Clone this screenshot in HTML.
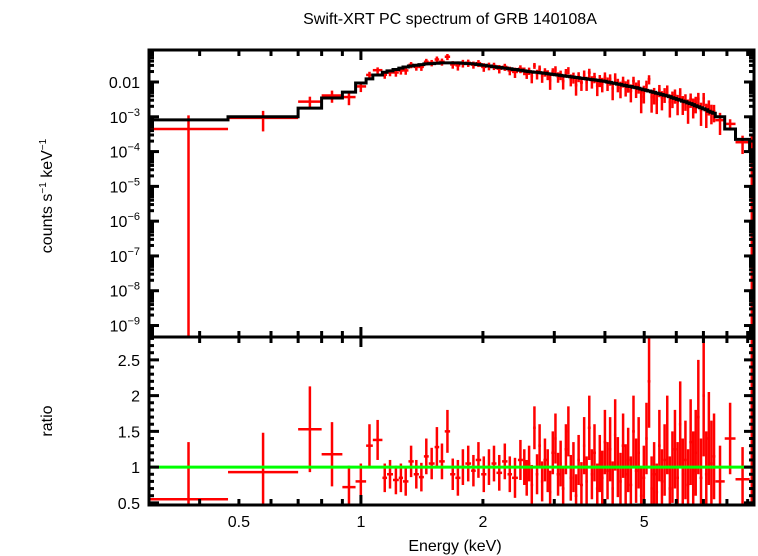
<!DOCTYPE html>
<html><head><meta charset="utf-8">
<style>
html,body{margin:0;padding:0;background:#fff;}
svg{display:block;font-family:"Liberation Sans",sans-serif;}
</style></head>
<body>
<svg id="chart" width="758" height="556" viewBox="0 0 758 556" xmlns="http://www.w3.org/2000/svg">
<text x="450" y="24" font-size="16" text-anchor="middle">Swift-XRT PC spectrum of GRB 140108A</text>
<text transform="translate(52,196) rotate(-90)" font-size="16" text-anchor="middle">counts s<tspan font-size="10" dy="-6">−1</tspan><tspan dy="6"> keV</tspan><tspan font-size="10" dy="-6">−1</tspan></text>
<text transform="translate(52,421) rotate(-90)" font-size="16" text-anchor="middle">ratio</text>
<text x="455" y="551" font-size="16" text-anchor="middle">Energy (keV)</text>
<g id="topPanel"></g>
<g id="botPanel"></g>
</svg>
<script>
// ---- data ----
const binEdgesLow = [0.3,0.47,0.7,0.8,0.9,0.97,1.03,1.07];
const binEdgesLowHi = [0.47,0.7,0.8,0.9,0.97,1.03,1.07,1.13];
const binEdgesMid = [1.13,1.16,1.20,1.24,1.27,1.31,1.35,1.39,1.43,1.47,1.52,1.56,1.61,1.66,1.71,1.76,1.81,1.87,1.92,1.98,2.04,2.10,2.16,2.23,2.30,2.36,2.44,
 2.51,2.55,2.58,2.62,2.66,2.70,2.74,2.78,2.82,2.87,2.91,
 2.95,3.00,3.04,3.09,3.13,3.18,3.23,3.27,3.32,3.37,
 3.42,3.47,3.53,3.58,3.63,3.69,3.74,3.80,3.86,
 3.91,3.97,4.03,4.09,4.15,4.21,4.27,4.34,4.40,4.47,
 4.53,4.60,4.67,4.74,4.81,4.88,4.95,5.03,5.10,5.18,
 5.25,5.33,5.41,5.49,5.57,5.66,5.74,5.83,5.91,6.00,
 6.09,6.18,6.27,6.37,6.46,6.56,6.65,6.75,6.85,6.96,
 7.06,7.17,7.27,7.38,7.49,7.9,8.4,9.1,9.33];
const modelLog10 = [-3.09,-3.0,-2.75,-2.46,-2.29,-2.03,-1.91,-1.8,
 -1.72,-1.68,-1.64,-1.6,-1.57,-1.54,-1.52,-1.5,-1.48,-1.47,-1.46,-1.45,-1.45,-1.45,-1.45,-1.46,-1.47,-1.48,-1.5,-1.52,-1.54,-1.56,-1.58,-1.6,-1.62,-1.64,-1.66,
 -1.68,-1.69,-1.70,-1.71,-1.72,-1.72,-1.73,-1.74,-1.75,-1.76,-1.77,
 -1.78,-1.79,-1.80,-1.81,-1.82,-1.83,-1.84,-1.85,-1.86,-1.87,
 -1.88,-1.89,-1.90,-1.91,-1.92,-1.93,-1.94,-1.95,-1.96,
 -1.97,-1.98,-2.0,-2.01,-2.03,-2.04,-2.06,-2.07,-2.09,-2.10,
 -2.12,-2.13,-2.15,-2.16,-2.18,-2.20,-2.22,-2.24,-2.26,-2.28,
 -2.3,-2.32,-2.34,-2.36,-2.38,-2.40,-2.42,-2.45,-2.47,-2.50,
 -2.52,-2.55,-2.57,-2.60,-2.62,-2.65,-2.68,-2.71,-2.74,-2.77,
 -2.8,-2.84,-2.87,-2.9,
 -3.0,-3.35,-3.65,-3.95];
const ratio = [0.55,0.93,1.53,1.18,0.72,0.8,1.3,1.38,
 0.85,0.9,0.82,0.85,0.8,1.08,0.9,0.86,1.15,1.05,1.28,1.08,1.5,0.9,0.85,1.0,1.05,0.95,1.1,0.9,1.0,1.05,0.92,1.08,0.9,0.85,1.1,
 1.0,0.85,1.05,0.75,1.55,0.9,1.3,0.8,1.1,0.95,0.65,
 1.2,1.4,0.9,1.05,0.7,1.25,1.5,0.85,1.0,0.6,
 1.1,0.75,1.3,0.8,1.55,0.9,1.2,0.7,1.05,
 0.85,1.35,0.95,1.25,0.7,1.45,1.0,0.8,1.3,0.9,
 1.1,0.75,1.5,0.95,1.2,0.6,0.85,1.4,2.2,0.7,
 0.9,0.65,1.3,0.8,1.1,1.45,0.7,1.0,1.25,0.85,
 1.6,0.9,1.1,0.75,1.35,0.95,1.2,1.7,0.85,2.0,
 0.9,1.4,1.05,1.15,
 0.8,1.4,0.83,1.1];
const ratioErr = [0.8,0.55,0.6,0.45,0.3,0.25,0.3,0.28,
 0.2,0.2,0.2,0.2,0.2,0.22,0.2,0.2,0.25,0.22,0.28,0.25,0.3,0.22,0.25,0.25,0.25,0.22,0.25,0.25,0.25,0.25,0.25,0.25,0.25,0.28,0.28,
 0.25,0.25,0.25,0.28,0.3,0.28,0.3,0.28,0.3,0.3,0.3,
 0.3,0.35,0.3,0.32,0.3,0.35,0.35,0.32,0.35,0.3,
 0.35,0.32,0.4,0.35,0.45,0.35,0.4,0.35,0.4,
 0.38,0.45,0.4,0.45,0.38,0.5,0.42,0.4,0.45,0.42,
 0.45,0.4,0.5,0.45,0.5,0.4,0.45,0.5,0.65,0.45,
 0.45,0.4,0.5,0.45,0.5,0.55,0.45,0.5,0.55,0.5,
 0.6,0.5,0.55,0.5,0.6,0.55,0.6,0.8,0.55,0.85,
 0.6,0.65,0.6,0.6,
 0.5,0.5,0.45,1.8];
const yTopTicks = [-2,-3,-4,-5,-6,-7,-8,-9];
const yTopLabels = ["0.01","10|-3","10|-4","10|-5","10|-6","10|-7","10|-8","10|-9"];
const yBotTicks = [0.5,1,1.5,2,2.5];
const xTickVals = [0.5,1,2,5];

// ---- scales ----
const X0=149, X1=754, TY0=50, TY1=337, BY0=337, BY1=505;
const xMin=Math.log10(0.3), xMax=Math.log10(9.33);
const sx = e => X0 + (Math.log10(e)-xMin)/(xMax-xMin)*(X1-X0);
const lyMin=-9.33, lyMax=-1.08;
const syTop = l => TY1 - (l-lyMin)/(lyMax-lyMin)*(TY1-TY0);
const rMin=0.47, rMax=2.82;
const syBot = r => BY1 - (r-rMin)/(rMax-rMin)*(BY1-BY0);
const NS="http://www.w3.org/2000/svg";
function mk(tag,attrs,parent){const el=document.createElementNS(NS,tag);for(const k in attrs)el.setAttribute(k,attrs[k]);parent.appendChild(el);return el;}
const topG=document.getElementById('topPanel'), botG=document.getElementById('botPanel');

const lo = binEdgesLow.concat(binEdgesMid.slice(0,-1));
const hi = binEdgesLowHi.concat(binEdgesMid.slice(1));
const n = Math.min(lo.length, modelLog10.length, ratio.length, ratioErr.length);

let d="";
for(let i=0;i<n;i++){const y=syTop(modelLog10[i]);d+=(i===0?"M":"L")+sx(lo[i]).toFixed(1)+","+y.toFixed(1)+"L"+sx(hi[i]).toFixed(1)+","+y.toFixed(1);}
for(let i=0;i<n;i++){
 const c=Math.sqrt(lo[i]*hi[i]);
 const m=Math.pow(10,modelLog10[i]);
 const v=m*ratio[i], up=m*(ratio[i]+ratioErr[i]), dn=m*(ratio[i]-ratioErr[i]);
 const yv=syTop(Math.log10(v)), yu=Math.max(TY0,syTop(Math.log10(up))), yd=dn>0?Math.min(TY1,syTop(Math.log10(dn))):TY1;
 const g=mk('g',{},topG);
 
 
 mk('line',{x1:sx(lo[i]),x2:sx(hi[i]),y1:yv,y2:yv,stroke:'#f00','stroke-width':2.5},g);
 mk('line',{x1:sx(c),x2:sx(c),y1:yu,y2:yd,stroke:'#f00','stroke-width':2.5},g);
}
const mp=mk('path',{d:d,fill:'none',stroke:'#000','stroke-width':3},topG);



for(let i=0;i<n;i++){
 const c=Math.sqrt(lo[i]*hi[i]);
 const yv=syBot(ratio[i]), yu=Math.max(BY0,syBot(ratio[i]+ratioErr[i])), yd=Math.min(BY1,syBot(ratio[i]-ratioErr[i]));
 const g=mk('g',{},botG);
 
 
 mk('line',{x1:sx(lo[i]),x2:sx(hi[i]),y1:yv,y2:yv,stroke:'#f00','stroke-width':2.5},g);
 mk('line',{x1:sx(c),x2:sx(c),y1:yu,y2:yd,stroke:'#f00','stroke-width':2.5},g);
}
const gl=mk('line',{x1:X0,x2:X1,y1:syBot(1),y2:syBot(1),stroke:'#0f0','stroke-width':3},botG);



const svg=document.getElementById('chart');
const ax=mk('g',{},svg);


mk('rect',{x:X0,y:TY0,width:X1-X0,height:TY1-TY0,fill:'none',stroke:'#000','stroke-width':3},ax);
mk('rect',{x:X0,y:BY0,width:X1-X0,height:BY1-BY0,fill:'none',stroke:'#000','stroke-width':3},ax);
const minorX=[0.4,0.5,0.6,0.7,0.8,0.9,2,3,4,5,6,7,8,9];
for(const e of minorX.concat([1])){
 const x=sx(e), L=e===1?10:6;
 for(const [a,b] of [[TY0,TY1],[BY0,BY1]]){
  mk('line',{x1:x,x2:x,y1:a,y2:a+L,stroke:'#000','stroke-width':3},ax);
  mk('line',{x1:x,x2:x,y1:b,y2:b-L,stroke:'#000','stroke-width':3},ax);
 }
}
for(const e of xTickVals){
 const t=mk('text',{x:sx(e),y:527,'font-size':16,'text-anchor':'middle'},ax);
 t.textContent=String(e);
 
 
}
for(let k=-10;k<=-1;k++){
 for(let m=1;m<10;m++){
  const l=k+Math.log10(m); if(l<lyMin||l>lyMax)continue;
  const y=syTop(l), L=m===1?10:5;
  mk('line',{x1:X0,x2:X0+L,y1:y,y2:y,stroke:'#000','stroke-width':3},ax);
  mk('line',{x1:X1,x2:X1-L,y1:y,y2:y,stroke:'#000','stroke-width':3},ax);
 }
}
yTopTicks.forEach((l,i)=>{
 const t=mk('text',{x:140,y:syTop(l)+6,'font-size':16,'text-anchor':'end'},ax);
 
 
 const parts=yTopLabels[i].split('|');
 if(parts.length===1){t.textContent=parts[0];}
 else{t.textContent=parts[0];const ts=mk('tspan',{'font-size':11,dy:-7},t);ts.textContent=parts[1].replace('-','−');}
});
for(let r=0.5;r<=2.81;r+=0.1){
 const y=syBot(r), major=Math.abs(r*2-Math.round(r*2))<1e-6, L=major?10:5;
 mk('line',{x1:X0,x2:X0+L,y1:y,y2:y,stroke:'#000','stroke-width':3},ax);
 mk('line',{x1:X1,x2:X1-L,y1:y,y2:y,stroke:'#000','stroke-width':3},ax);
}
yBotTicks.forEach(r=>{
 const t=mk('text',{x:140,y:syBot(r)+6,'font-size':16,'text-anchor':'end'},ax);
 t.textContent=String(r);
 
 
});
</script>
</body></html>
